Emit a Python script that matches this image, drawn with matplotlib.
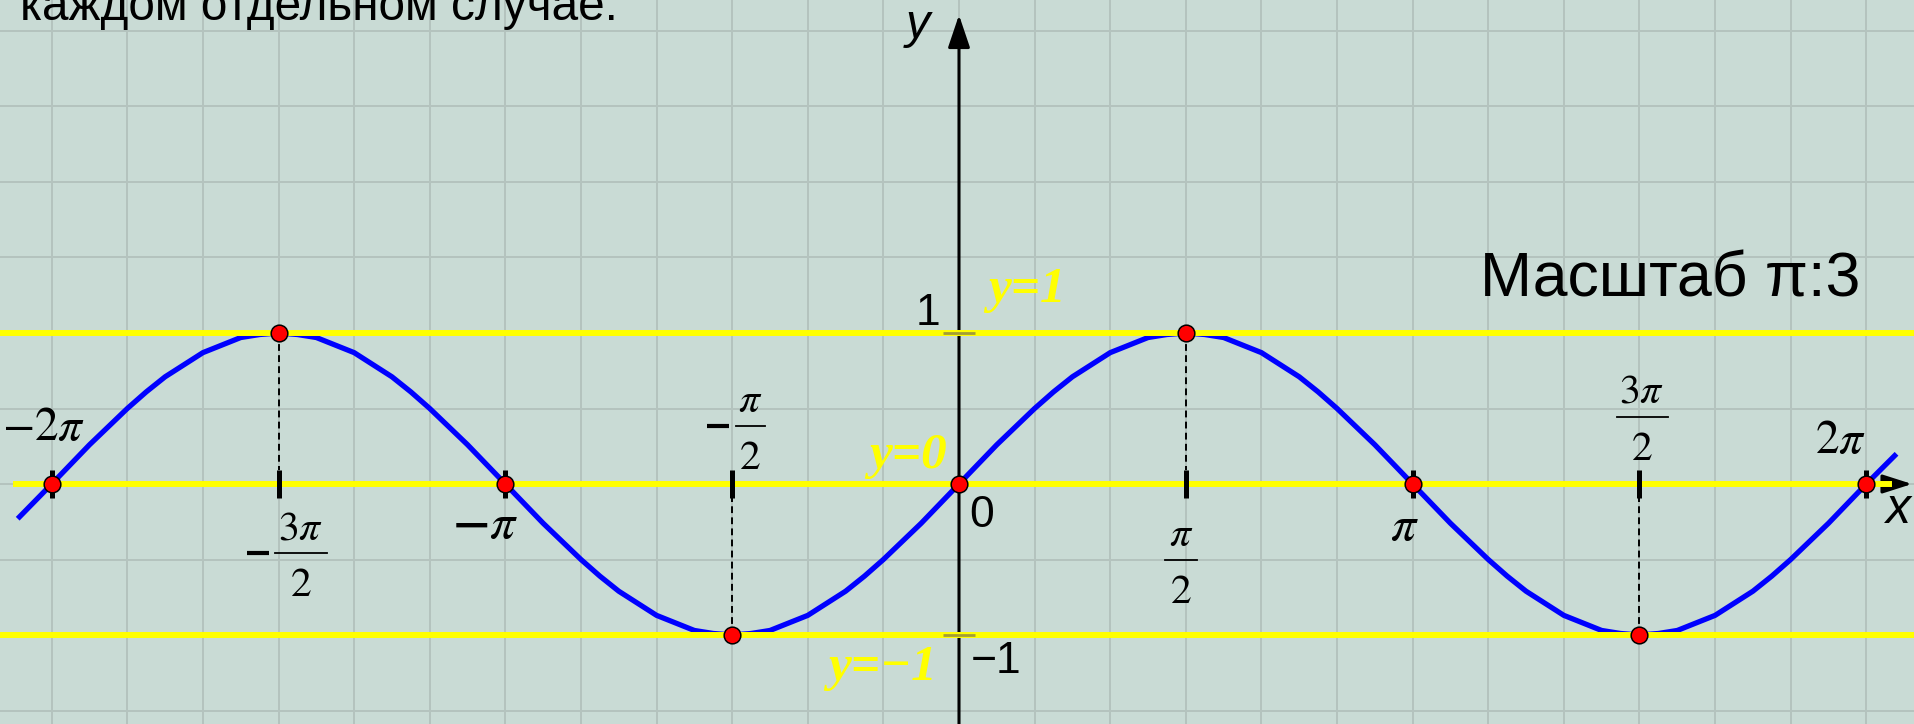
import matplotlib.pyplot as plt
import numpy as np

plt.rcParams['mathtext.fontset'] = 'stix'

# curve samples, x in units of pi/24, y
curve_k = [-49.8] + list(range(-48, 49)) + [49.6]
curve_y = [-0.23,
           0, 0.13, 0.26, 0.38, 0.5, 0.61, 0.71, 0.79, 0.87, 0.92, 0.97, 0.99,
           1, 0.99, 0.97, 0.92, 0.87, 0.79, 0.71, 0.61, 0.5, 0.38, 0.26, 0.13,
           0, -0.13, -0.26, -0.38, -0.5, -0.61, -0.71, -0.79, -0.87, -0.92, -0.97, -0.99,
           -1, -0.99, -0.97, -0.92, -0.87, -0.79, -0.71, -0.61, -0.5, -0.38, -0.26, -0.13,
           0, 0.13, 0.26, 0.38, 0.5, 0.61, 0.71, 0.79, 0.87, 0.92, 0.97, 0.99,
           1, 0.99, 0.97, 0.92, 0.87, 0.79, 0.71, 0.61, 0.5, 0.38, 0.26, 0.13,
           0, -0.13, -0.26, -0.38, -0.5, -0.61, -0.71, -0.79, -0.87, -0.92, -0.97, -0.99,
           -1, -0.99, -0.97, -0.92, -0.87, -0.79, -0.71, -0.61, -0.5, -0.38, -0.26, -0.13,
           0, 0.2]

# marked points, x in units of pi/2
zeros_k = [-4, -2, 0, 2, 4]
extrema_k = [-3, -1, 1, 3]
extrema_y = [1, -1, 1, -1]
ticks_k = [-4, -3, -2, -1, 1, 2, 3, 4]
levels = [1, 0, -1]

X0, Y0, SX, SY = 959, 484, 144.4, 151.0  # pixel layout of the picture


def px(x, y):
    return (x - X0) / SX, (Y0 - y) / SY


fig = plt.figure(figsize=(19.15, 7.24), dpi=100)
bg = '#c9dbd5'
fig.patch.set_facecolor(bg)
ax = fig.add_axes([0, 0, 1, 1])
ax.set_facecolor(bg)
ax.set_xlim(px(0, 0)[0], px(1915, 0)[0])
ax.set_ylim(px(0, 724)[1], px(0, 0)[1])

# grid: pi/6 by 0.5
ax.set_xticks(np.arange(-12, 13) * np.pi / 6)
ax.set_yticks(np.arange(-3, 7) * 0.5)
ax.grid(True, color='#b4c3be', lw=1.4)
ax.tick_params(length=0, labelbottom=False, labelleft=False)
for s in ax.spines.values():
    s.set_visible(False)
ax.set_axisbelow(True)

# axes
ax.annotate('', xy=(0, px(0, 15)[1]), xytext=(0, px(0, 724)[1]),
            arrowprops=dict(arrowstyle='-|>,head_length=0.8,head_width=0.27',
                            lw=2.2, color='black', mutation_scale=25,
                            shrinkA=0, shrinkB=0), zorder=2)
ax.annotate('', xy=(px(1912, 0)[0], 0), xytext=(px(16, 0)[0], 0),
            arrowprops=dict(arrowstyle='-|>,head_length=0.72,head_width=0.23',
                            lw=2.2, color='black', mutation_scale=25,
                            shrinkA=0, shrinkB=0), zorder=2)

# curve
cx = np.array(curve_k) * np.pi / 24
ax.plot(cx, curve_y, color='#0000ff', lw=3.8, solid_joinstyle='round',
        solid_capstyle='butt', zorder=3)

# yellow levels
for lv in levels:
    if lv == 0:
        ax.plot([px(16, 0)[0], px(1889, 0)[0]], [0, 0], color='#ffff00', lw=4.3, zorder=4)
    else:
        ax.axhline(lv, color='#ffff00', lw=4.3, zorder=4)
ax.plot([0, 0], [1, -1], ls='none', marker='_', ms=23, mew=2, color='#a39d35', zorder=4.5)

# dashed drop lines
ex = np.array(extrema_k) * np.pi / 2
for x, y in zip(ex, extrema_y):
    ax.plot([x, x], [y, 0.093 * np.sign(y)], color='black', lw=1.4,
            ls=(0, (3.5, 2.2)), zorder=5)

# ticks on x axis
ax.plot(np.array(ticks_k) * np.pi / 2, [0] * len(ticks_k), ls='none', marker='|',
        ms=20, mew=3.6, color='black', zorder=6)

# points
zx = np.array(zeros_k) * np.pi / 2
ax.plot(zx, [0] * len(zx), ls='none', marker='o', ms=12, mfc='#ff0000',
        mec='black', mew=1.1, zorder=7)
ax.plot(ex, extrema_y, ls='none', marker='o', ms=12, mfc='#ff0000',
        mec='black', mew=1.1, zorder=7)

# texts
sans = 'Liberation Sans'
serif = 'Liberation Serif'


def txt(x, y, s, ha='left', **kw):
    ax.text(*px(x, y), s, ha=ha, va='baseline', zorder=8, **kw)


txt(20, 20, 'каждом отдельном случае.', family=sans, size=34.4)
txt(1480, 297, 'Масштаб π:3', family=sans, size=45)
txt(918, 38, 'y', ha='center', family=sans, style='italic', size=35)
txt(1898, 523, 'x', ha='center', family=sans, style='italic', size=36)
txt(969, 527, '0', family=sans, size=32)
txt(940, 325, '1', ha='right', family=sans, size=32)
txt(971, 673, '−1', family=sans, size=32)

yel = dict(family=serif, weight='bold', style='italic', size=37, color='#ffff00')
txt(988, 302, 'y=1', **yel)
txt(947, 468, 'y=0', ha='right', **yel)
txt(937, 680, 'y=−1', ha='right', **yel)

txt(44, 440, r'$-2\pi$', ha='center', size=34)
txt(1840, 453, r'$2\pi$', ha='center', size=34)
txt(485, 538, r'$\mathbf{-}\pi$', ha='center', size=36)
txt(1404, 540, r'$\pi$', ha='center', size=36)


def frac(cxp, bar, w, num, minus_x=None):
    txt(cxp, bar - 14, num, ha='center', size=30)
    txt(cxp, bar + 43, r'$2$', ha='center', size=30)
    x0, y0 = px(cxp - w / 2, bar)
    x1, _ = px(cxp + w / 2, bar)
    ax.plot([x0, x1], [y0, y0], color='black', lw=1.3, zorder=8)
    if minus_x is not None:
        ax.plot([px(minus_x - 11, 0)[0], px(minus_x + 11, 0)[0]], [y0, y0],
                color='black', lw=3, solid_capstyle='butt', zorder=8)


frac(301, 553, 52, r'$3\pi$', minus_x=258)
frac(750, 426, 29, r'$\pi$', minus_x=718)
frac(1181, 560, 32, r'$\pi$')
frac(1642, 417, 51, r'$3\pi$')

plt.savefig('out.png', dpi=100, facecolor=bg)
